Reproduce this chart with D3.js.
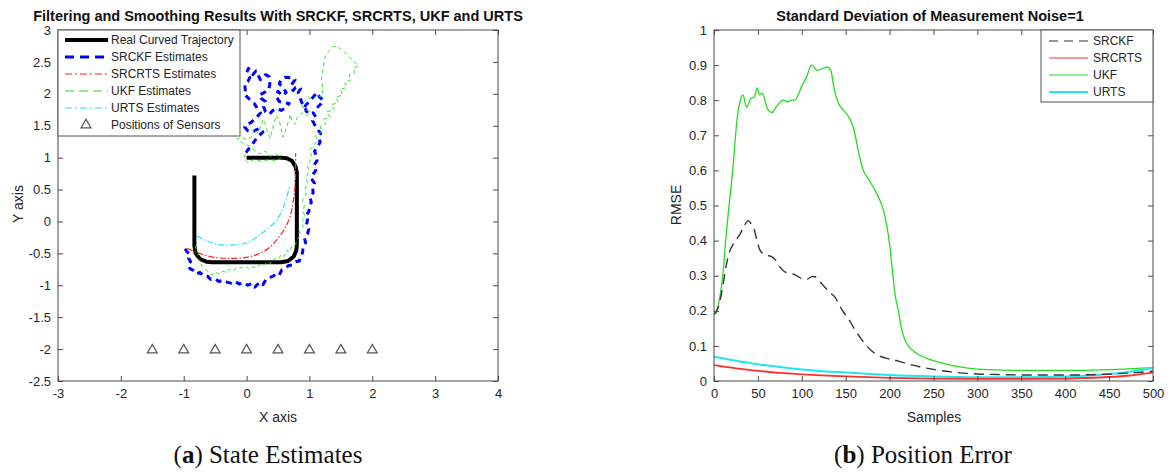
<!DOCTYPE html>
<html>
<head>
<meta charset="utf-8">
<script src="https://cdn.jsdelivr.net/npm/d3@7"></script>
<style>
  html, body { margin: 0; padding: 0; background: #fff; }
  svg { display: block; }
  text { font-family: "Liberation Sans", Arial, sans-serif; }
</style>
</head>
<body>
<svg id="chart" width="1172" height="472"></svg>
<script>
// ---------- Panel (a): state estimates ----------
const xTicksA = [-3, -2, -1, 0, 1, 2, 3, 4];
const yTicksA = [-2.5, -2, -1.5, -1, -0.5, 0, 0.5, 1, 1.5, 2, 2.5, 3];

// Real curved trajectory
const trueX = [-0.83, -0.83, -0.81, -0.74, -0.64, -0.55, 0.55, 0.66, 0.75, 0.79, 0.80, 0.80, 0.78, 0.72, 0.64, 0.55, 0.00];
const trueY = [0.72, -0.38, -0.50, -0.59, -0.63, -0.64, -0.64, -0.62, -0.55, -0.46, -0.38, 0.76, 0.86, 0.95, 0.99, 1.00, 1.00];

// SRCKF estimates
const srckfX = [-0.98, -0.95, -0.90, -0.92, -0.89, -0.93, -0.90, -0.84, -0.80, -0.74, -0.69, -0.62, -0.57, -0.50, -0.44, -0.37, -0.31, -0.24, -0.18, -0.12, -0.05, 0.02, 0.08, 0.13, 0.17, 0.22, 0.26, 0.31, 0.36, 0.42, 0.47, 0.52, 0.56, 0.62, 0.67, 0.73, 0.78, 0.84, 0.86, 0.89, 0.90, 0.94, 0.92, 0.97, 0.99, 0.95, 0.97, 0.94, 0.99, 1.00, 1.03, 1.01, 1.06, 1.05, 1.08, 1.03, 1.06, 1.10, 1.07, 1.12, 1.11, 1.08, 1.13, 1.17, 1.15, 1.18, 1.12, 1.08, 1.05, 1.10, 1.06,
  1.12, 1.18, 1.22, 1.16, 1.12, 1.06, 1.00, 0.94, 0.90, 0.96, 0.88, 0.85, 0.82, 0.86, 0.78, 0.74, 0.70, 0.77, 0.70, 0.62, 0.55, 0.52, 0.58, 0.63, 0.57, 0.50, 0.47, 0.52, 0.60, 0.68, 0.62, 0.55, 0.48, 0.42, 0.36, 0.30, 0.27, 0.30, 0.23, 0.20, 0.28, 0.35, 0.37, 0.36, 0.30, 0.22, 0.18, 0.15, 0.10, 0.06, 0.03, 0.00, 0.05, 0.02, -0.03, -0.02, -0.04, 0.04, 0.12, 0.18, 0.22, 0.15, 0.08, 0.02, -0.03, 0.02, 0.09, 0.16, 0.22, 0.26, 0.18, 0.12, 0.07, 0.02, -0.03];
const srckfY = [-0.43, -0.47, -0.52, -0.58, -0.63, -0.68, -0.74, -0.77, -0.82, -0.80, -0.85, -0.86, -0.91, -0.90, -0.94, -0.92, -0.95, -0.97, -0.94, -0.98, -0.96, -1.00, -0.97, -1.03, -0.99, -0.95, -0.99, -0.91, -0.88, -0.86, -0.82, -0.84, -0.76, -0.73, -0.69, -0.68, -0.63, -0.62, -0.55, -0.49, -0.40, -0.33, -0.26, -0.20, -0.12, -0.06, 0.02, 0.09, 0.15, 0.23, 0.30, 0.38, 0.45, 0.53, 0.60, 0.67, 0.74, 0.80, 0.88, 0.95, 1.03, 1.10, 1.17, 1.24, 1.32, 1.38, 1.45, 1.52, 1.58, 1.64, 1.70,
  1.78, 1.84, 1.90, 1.95, 2.02, 1.95, 1.88, 1.82, 1.76, 1.72, 1.86, 1.94, 2.02, 2.08, 2.10, 2.05, 2.12, 2.22, 2.25, 2.26, 2.22, 2.16, 2.10, 2.02, 1.97, 2.04, 1.96, 1.88, 1.86, 1.85, 1.78, 1.74, 1.77, 1.74, 1.68, 1.72, 1.80, 1.88, 1.93, 1.98, 2.02, 2.06, 2.15, 2.27, 2.30, 2.22, 2.30, 2.36, 2.30, 2.35, 2.40, 2.33, 2.25, 2.19, 2.15, 2.06, 2.00, 1.92, 1.85, 1.76, 1.70, 1.62, 1.56, 1.52, 1.48, 1.42, 1.40, 1.44, 1.46, 1.40, 1.33, 1.25, 1.18, 1.12, 1.05];

// SRCRTS estimates
const srcrtsX = [-0.95, -0.80, -0.62, -0.45, -0.26, -0.05, 0.10, 0.21, 0.35, 0.48, 0.60, 0.69, 0.74, 0.77, 0.78, 0.78];
const srcrtsY = [-0.42, -0.48, -0.54, -0.57, -0.58, -0.57, -0.54, -0.50, -0.42, -0.29, -0.12, 0.07, 0.30, 0.54, 0.80, 1.07];

// URTS estimates
const urtsX = [-0.79, -0.62, -0.45, -0.26, -0.05, 0.10, 0.21, 0.35, 0.48, 0.57, 0.64, 0.69];
const urtsY = [-0.23, -0.31, -0.36, -0.37, -0.35, -0.29, -0.21, -0.10, 0.02, 0.19, 0.39, 0.57];

// UKF estimates
const ukfX = [-0.82, -0.80, -0.76, -0.79, -0.74, -0.71, -0.66, -0.60, -0.55, -0.50, -0.45, -0.38, -0.32, -0.26, -0.20, -0.14, -0.08, -0.02, 0.04, 0.10, 0.16, 0.21, 0.27, 0.33, 0.38, 0.44, 0.50, 0.55, 0.60, 0.64, 0.69, 0.72, 0.78, 0.80, 0.86, 0.84, 0.90, 0.88, 0.93, 0.90, 0.92, 0.89, 0.95, 0.93, 0.97, 0.95, 0.99, 0.97, 1.01, 1.03, 1.00, 1.06,
  1.12, 1.10, 1.20, 1.17, 1.26, 1.22, 1.33, 1.28, 1.40, 1.35, 1.46, 1.42, 1.53, 1.49, 1.60, 1.56, 1.66, 1.63, 1.72, 1.70, 1.78,
  1.66, 1.55, 1.45, 1.38, 1.30, 1.24, 1.22, 1.19, 1.21, 1.20,
  1.12, 1.05, 0.98, 0.92, 0.88, 0.95, 1.02, 0.96, 0.88, 0.80, 0.78, 0.72, 0.70, 0.66, 0.62, 0.58, 0.55, 0.52, 0.47, 0.44, 0.40, 0.38, 0.33, 0.30, 0.26, 0.22, 0.18, 0.12, 0.08, 0.00, -0.08, -0.15, -0.05, 0.05, 0.12, 0.20, 0.30, 0.38, 0.46, 0.55, 0.48, 0.36, 0.25, 0.12, 0.02, -0.04, -0.02];
const ukfY = [-0.38, -0.45, -0.50, -0.56, -0.62, -0.70, -0.74, -0.80, -0.84, -0.79, -0.82, -0.78, -0.80, -0.74, -0.76, -0.71, -0.73, -0.70, -0.74, -0.71, -0.73, -0.67, -0.69, -0.63, -0.66, -0.58, -0.60, -0.52, -0.55, -0.45, -0.48, -0.38, -0.36, -0.28, -0.22, -0.14, -0.08, 0.00, 0.07, 0.16, 0.25, 0.33, 0.42, 0.51, 0.60, 0.69, 0.78, 0.87, 0.94, 1.04, 1.12, 1.18,
  1.26, 1.35, 1.40, 1.48, 1.52, 1.60, 1.63, 1.72, 1.75, 1.83, 1.86, 1.95, 1.98, 2.07, 2.10, 2.18, 2.22, 2.30, 2.33, 2.40, 2.44,
  2.55, 2.66, 2.74, 2.74, 2.66, 2.55, 2.40, 2.25, 2.10, 1.95,
  1.98, 1.90, 1.95, 1.88, 1.80, 1.75, 1.72, 1.66, 1.70, 1.62, 1.52, 1.58, 1.68, 1.55, 1.42, 1.32, 1.45, 1.58, 1.66, 1.54, 1.42, 1.30, 1.40, 1.52, 1.60, 1.48, 1.38, 1.45, 1.33, 1.28, 1.32, 1.29, 1.22, 1.18, 1.12, 1.06, 1.10, 1.02, 1.06, 1.00, 0.95, 0.97, 0.94, 0.97, 0.92, 0.98, 1.06];

// Sensor positions
const sensorX = [-1.5, -1, -0.5, 0, 0.5, 1, 1.5, 2];
const sensorY = [-2, -2, -2, -2, -2, -2, -2, -2];

// ---------- Panel (b): RMSE ----------
const xTicksB = [0, 50, 100, 150, 200, 250, 300, 350, 400, 450, 500];
const yTicksB = [0, 0.1, 0.2, 0.3, 0.4, 0.5, 0.6, 0.7, 0.8, 0.9, 1];

const ukfK = [0, 3, 6, 10, 14, 18, 22, 26, 30, 33, 37, 42, 46, 49, 52, 55, 58, 61, 66, 72, 79, 84, 88, 92, 100, 106, 111, 118, 124, 129, 133, 137, 142, 148, 154, 159, 164, 170, 176, 183, 188, 193, 197, 200, 203, 206, 210, 213, 217, 222, 230, 240, 250, 265, 280, 300, 330, 370, 400, 430, 460, 500];
const ukfRmse = [0.19, 0.195, 0.23, 0.30, 0.42, 0.52, 0.62, 0.74, 0.80, 0.815, 0.78, 0.805, 0.81, 0.835, 0.815, 0.82, 0.80, 0.775, 0.765, 0.785, 0.80, 0.795, 0.80, 0.80, 0.84, 0.87, 0.90, 0.885, 0.89, 0.895, 0.885, 0.83, 0.79, 0.77, 0.75, 0.72, 0.66, 0.60, 0.575, 0.545, 0.52, 0.487, 0.44, 0.39, 0.32, 0.25, 0.20, 0.155, 0.12, 0.098, 0.08, 0.067, 0.058, 0.048, 0.040, 0.034, 0.031, 0.030, 0.030, 0.031, 0.033, 0.038];

const srckfK = [0, 3, 6, 10, 14, 18, 22, 26, 30, 34, 39, 43, 46, 49, 52, 56, 60, 65, 70, 75, 80, 86, 92, 100, 106, 112, 115, 120, 126, 132, 138, 143, 147, 153, 160, 167, 174, 180, 188, 196, 205, 215, 225, 235, 250, 270, 300, 330, 360, 400, 430, 460, 480, 500];
const srckfRmse = [0.19, 0.20, 0.22, 0.27, 0.33, 0.37, 0.39, 0.405, 0.42, 0.44, 0.457, 0.445, 0.43, 0.40, 0.375, 0.362, 0.358, 0.355, 0.345, 0.325, 0.312, 0.307, 0.303, 0.292, 0.29, 0.298, 0.297, 0.285, 0.268, 0.252, 0.238, 0.215, 0.198, 0.178, 0.148, 0.122, 0.10, 0.085, 0.072, 0.065, 0.060, 0.053, 0.046, 0.040, 0.033, 0.026, 0.020, 0.018, 0.017, 0.017, 0.018, 0.021, 0.024, 0.028];

const srcrtsK = [0, 25, 50, 75, 100, 150, 200, 250, 300, 350, 400, 440, 470, 500];
const srcrtsRmse = [0.045, 0.036, 0.029, 0.023, 0.019, 0.013, 0.009, 0.007, 0.006, 0.006, 0.007, 0.010, 0.015, 0.024];

const urtsK = [0, 25, 50, 75, 100, 150, 200, 250, 300, 350, 400, 440, 470, 500];
const urtsRmse = [0.069, 0.058, 0.048, 0.040, 0.033, 0.024, 0.017, 0.013, 0.011, 0.011, 0.013, 0.018, 0.025, 0.037];

// ---------- drawing ----------
const svg = d3.select("#chart");
svg.append("rect").attr("width", 1172).attr("height", 472).attr("fill", "#fff");
const defs = svg.append("defs");

const AX = "#4a4a4a";   // axis line colour
const TX = "#262626";   // text colour

function frame(g, x, y, xt, yt, xfmt, yfmt) {
  const [x0, x1] = x.range();
  const [y0, y1] = y.range(); // y0 bottom, y1 top
  const bottom = g.append("g").attr("transform", `translate(0,${y0})`)
    .call(d3.axisBottom(x).tickValues(xt).tickSizeInner(-5).tickSizeOuter(0).tickPadding(8).tickFormat(xfmt));
  const top = g.append("g").attr("transform", `translate(0,${y1})`)
    .call(d3.axisTop(x).tickValues(xt).tickSizeInner(-5).tickSizeOuter(0).tickFormat(""));
  const left = g.append("g").attr("transform", `translate(${x0},0)`)
    .call(d3.axisLeft(y).tickValues(yt).tickSizeInner(-5).tickSizeOuter(0).tickPadding(7).tickFormat(yfmt));
  const right = g.append("g").attr("transform", `translate(${x1},0)`)
    .call(d3.axisRight(y).tickValues(yt).tickSizeInner(-5).tickSizeOuter(0).tickFormat(""));
  [bottom, top, left, right].forEach(a => {
    a.select(".domain").remove();
    a.selectAll(".tick line").attr("stroke", AX).attr("stroke-width", 1);
    a.selectAll(".tick text").attr("fill", TX).style("font-size", "13px")
      .style("font-family", "'Liberation Sans', Arial, sans-serif");
  });
  g.append("rect").attr("x", x0).attr("y", y1).attr("width", x1 - x0).attr("height", y0 - y1)
    .attr("fill", "none").attr("stroke", AX).attr("stroke-width", 1);
}

const fmtA = d => String(d);
const zip = (xs, ys) => xs.map((v, i) => [v, ys[i]]);

// ---- panel (a) ----
const xA = d3.scaleLinear([-3, 4], [58, 498]);
const yA = d3.scaleLinear([-2.5, 3], [381, 30]);
const gA = svg.append("g");
defs.append("clipPath").attr("id", "clipA")
  .append("rect").attr("x", 58).attr("y", 30).attr("width", 440).attr("height", 351);
const plotA = gA.append("g").attr("clip-path", "url(#clipA)");
const lineA = curve => d3.line().x(d => xA(d[0])).y(d => yA(d[1])).curve(curve);

// true path first, estimates on top
plotA.append("path").datum(zip(trueX, trueY))
  .attr("d", lineA(d3.curveLinear))
  .attr("fill", "none").attr("stroke", "#000").attr("stroke-width", 4)
  .attr("stroke-linejoin", "round");

const seriesA = [
  { xs: srckfX, ys: srckfY, color: "#0000ff", width: 3, dash: "6,5", curve: d3.curveLinear },
  { xs: ukfX, ys: ukfY, color: "#22dd22", width: 0.9, dash: "4,3", curve: d3.curveLinear },
  { xs: srcrtsX, ys: srcrtsY, color: "#ff2020", width: 1.2, dash: "6,2,1.5,2", curve: d3.curveCatmullRom },
  { xs: urtsX, ys: urtsY, color: "#22e6ee", width: 1.2, dash: "6,2,1.5,2", curve: d3.curveCatmullRom },
];
seriesA.forEach(s => {
  plotA.append("path").datum(zip(s.xs, s.ys))
    .attr("d", lineA(s.curve))
    .attr("fill", "none").attr("stroke", s.color).attr("stroke-width", s.width)
    .attr("stroke-dasharray", s.dash).attr("stroke-linejoin", "round");
});

const tri = d3.symbol(d3.symbolTriangle, 42);
plotA.selectAll(".sensor").data(zip(sensorX, sensorY)).join("path")
  .attr("class", "sensor")
  .attr("transform", d => `translate(${xA(d[0])},${yA(d[1]) + 1})`)
  .attr("d", tri).attr("fill", "none").attr("stroke", "#555").attr("stroke-width", 1.2);

frame(gA, xA, yA, xTicksA, yTicksA, fmtA, fmtA);

// legend (a)
const legA = gA.append("g");
legA.append("rect").attr("x", 58).attr("y", 30).attr("width", 182).attr("height", 106)
  .attr("fill", "#fff").attr("stroke", "#555").attr("stroke-width", 1);
const legItemsA = [
  { label: "Real Curved Trajectory", color: "#000", width: 4, dash: null },
  { label: "SRCKF Estimates", color: "#0000ff", width: 3, dash: "9,6" },
  { label: "SRCRTS Estimates", color: "#ff2020", width: 1.2, dash: "7,3,2,3" },
  { label: "UKF Estimates", color: "#22dd22", width: 1.2, dash: "9,5" },
  { label: "URTS Estimates", color: "#22e6ee", width: 1.2, dash: "7,3,2,3" },
  { label: "Positions of Sensors", marker: true },
];
legItemsA.forEach((it, i) => {
  const yy = 40 + i * 17;
  if (it.marker) {
    legA.append("path").attr("transform", `translate(86,${yy})`).attr("d", tri)
      .attr("fill", "none").attr("stroke", "#555").attr("stroke-width", 1.2);
  } else {
    legA.append("line").attr("x1", 65).attr("x2", 108).attr("y1", yy).attr("y2", yy)
      .attr("stroke", it.color).attr("stroke-width", it.width)
      .attr("stroke-dasharray", it.dash);
  }
  legA.append("text").attr("x", 111).attr("y", yy).attr("dy", "0.36em")
    .attr("fill", TX).style("font-size", "12px").text(it.label);
});

gA.append("text").attr("x", 278).attr("y", 21).attr("text-anchor", "middle")
  .attr("fill", "#111").style("font-size", "14.5px").style("font-weight", "bold")
  .text("Filtering and Smoothing Results With SRCKF, SRCRTS, UKF and URTS");
gA.append("text").attr("x", 278).attr("y", 422).attr("text-anchor", "middle")
  .attr("fill", TX).style("font-size", "14px").text("X axis");
gA.append("text").attr("transform", "translate(23,204) rotate(-90)").attr("text-anchor", "middle")
  .attr("fill", TX).style("font-size", "14px").text("Y axis");

// ---- panel (b) ----
const xB = d3.scaleLinear([0, 500], [714, 1153]);
const yB = d3.scaleLinear([0, 1], [381, 30]);
const gB = svg.append("g");
defs.append("clipPath").attr("id", "clipB")
  .append("rect").attr("x", 714).attr("y", 30).attr("width", 439).attr("height", 351);
const plotB = gB.append("g").attr("clip-path", "url(#clipB)");

const seriesB = [
  { ks: ukfK, vs: ukfRmse, color: "#22dd22", width: 1.3, dash: null },
  { ks: urtsK, vs: urtsRmse, color: "#22e6ee", width: 2, dash: null },
  { ks: srcrtsK, vs: srcrtsRmse, color: "#ff3030", width: 1.8, dash: null },
  { ks: srckfK, vs: srckfRmse, color: "#333", width: 1.4, dash: "10,6" },
];
seriesB.forEach(s => {
  plotB.append("path").datum(zip(s.ks, s.vs))
    .attr("d", d3.line().x(d => xB(d[0])).y(d => yB(d[1])).curve(d3.curveMonotoneX))
    .attr("fill", "none").attr("stroke", s.color).attr("stroke-width", s.width)
    .attr("stroke-dasharray", s.dash);
});

frame(gB, xB, yB, xTicksB, yTicksB, d => String(d), d => (d === 0 || d === 1) ? String(d) : d3.format(".1f")(d));

const legB = gB.append("g");
legB.append("rect").attr("x", 1041).attr("y", 30).attr("width", 112).attr("height", 72)
  .attr("fill", "#fff").attr("stroke", "#555").attr("stroke-width", 1);
const legItemsB = [
  { label: "SRCKF", color: "#333", width: 1.2, dash: "9,6" },
  { label: "SRCRTS", color: "#ff3030", width: 1.2, dash: null },
  { label: "UKF", color: "#22dd22", width: 1.2, dash: null },
  { label: "URTS", color: "#22e6ee", width: 2, dash: null },
];
legItemsB.forEach((it, i) => {
  const yy = 41 + i * 17;
  legB.append("line").attr("x1", 1049).attr("x2", 1088).attr("y1", yy).attr("y2", yy)
    .attr("stroke", it.color).attr("stroke-width", it.width).attr("stroke-dasharray", it.dash);
  legB.append("text").attr("x", 1093).attr("y", yy).attr("dy", "0.36em")
    .attr("fill", TX).style("font-size", "12px").text(it.label);
});

gB.append("text").attr("x", 930).attr("y", 21).attr("text-anchor", "middle")
  .attr("fill", "#111").style("font-size", "14.5px").style("font-weight", "bold")
  .text("Standard Deviation of Measurement Noise=1");
gB.append("text").attr("x", 934).attr("y", 422).attr("text-anchor", "middle")
  .attr("fill", TX).style("font-size", "14px").text("Samples");
gB.append("text").attr("transform", "translate(681,205) rotate(-90)").attr("text-anchor", "middle")
  .attr("fill", TX).style("font-size", "14px").text("RMSE");

// ---- captions ----
function caption(x, letter, rest) {
  const t = svg.append("text").attr("x", x).attr("y", 463).attr("text-anchor", "middle")
    .style("font-family", "'Liberation Serif', 'DejaVu Serif', serif").style("font-size", "25px").attr("fill", "#111");
  t.append("tspan").text("(");
  t.append("tspan").style("font-weight", "bold").text(letter);
  t.append("tspan").text(") " + rest);
}
caption(268, "a", "State Estimates");
caption(923, "b", "Position Error");
</script>
</body>
</html>
